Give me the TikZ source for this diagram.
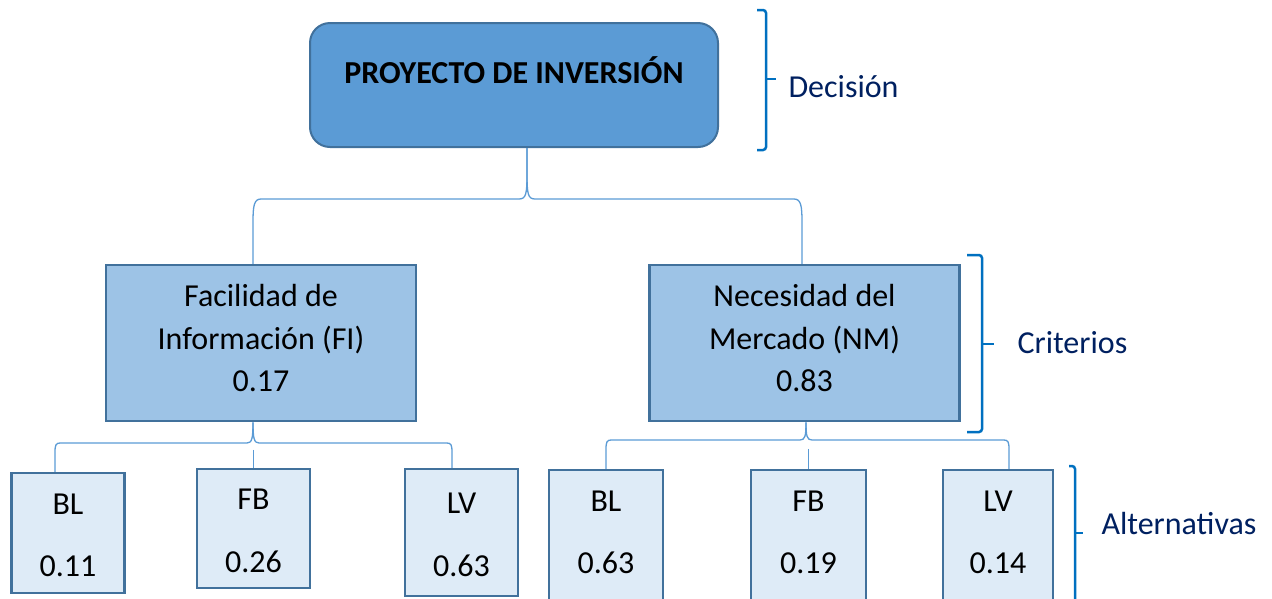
\documentclass[tikz,border=0pt]{standalone}
\usepackage{fontspec}
\setmainfont{Carlito}

\definecolor{topfill}{HTML}{5B9BD5}
\definecolor{midfill}{HTML}{9DC3E6}
\definecolor{altfill}{HTML}{DEEBF7}
\definecolor{boxline}{HTML}{41719C}
\definecolor{linkblue}{HTML}{5B9BD5}
\definecolor{bracketblue}{HTML}{0070C0}
\definecolor{navy}{HTML}{002060}

\begin{document}
\begin{tikzpicture}[x=1pt,y=-1pt,
    topbox/.style={draw=boxline,line width=2pt,fill=topfill,rounded corners=20pt,
      minimum width=408pt,minimum height=124pt,
      font=\fontsize{32}{38}\selectfont\bfseries,text height=21pt,text depth=25pt},
    critbox/.style={draw=boxline,line width=2.5pt,fill=midfill,
      minimum width=310pt,minimum height=156pt,align=center,
      font=\fontsize{32}{42.5}\selectfont,text depth=9.5pt},
    altbox/.style={draw=boxline,line width=2.5pt,fill=altfill,minimum width=113pt,
      align=center,font=\fontsize{32}{38.4}\selectfont,text height=88pt},
    link/.style={draw=linkblue,line width=1.3pt},
    bracket/.style={draw=bracketblue,line width=2.5pt,rounded corners=3pt},
    tag/.style={anchor=base west,text=navy,font=\fontsize{32}{38}\selectfont}]
    \useasboundingbox (0,0) rectangle (1272,598);
    \clip (0,0) rectangle (1272,598);

    % decision
    \node[topbox] (proyecto) at (514,85) {PROYECTO DE INVERSIÓN};

    % criteria
    \node[critbox] (facilidad) at (261,343) {Facilidad de\\Información (FI)\\0.17};
    \node[critbox] (necesidad) at (804.5,343) {Necesidad del\\Mercado (NM)\\0.83};

    % alternatives
    \node[altbox,minimum height=120pt] (bl1) at (68,533) {BL\\[24pt]0.11};
    \node[altbox,minimum height=119pt] (fb1) at (253.5,528.5) {FB\\[24pt]0.26};
    \node[altbox,minimum height=127pt] (lv1) at (461.5,532.5) {LV\\[24pt]0.63};
    \node[altbox,minimum width=114pt,minimum height=160pt,text depth=41pt] (bl2) at (606,550) {BL\\[24pt]0.63};
    \node[altbox,minimum width=115pt,minimum height=160pt,text depth=41pt] (fb2) at (808.5,550) {FB\\[24pt]0.19};
    \node[altbox,minimum width=110pt,minimum height=160pt,text depth=41pt] (lv2) at (998,550) {LV\\[24pt]0.14};

    % links
    \draw[link] ([xshift=13pt]proyecto.south) -- ++(0,26) .. controls +(0,20) and +(7,0) .. (519,199)
        -- (261,199) .. controls +(-7,0) and +(0,-16) .. (253,222) -- ([xshift=-8pt]facilidad.north);
    \draw[link] ([xshift=13pt]proyecto.south) -- ++(0,26) .. controls +(0,20) and +(-7,0) .. (535,199)
        -- (794,199) .. controls +(7,0) and +(0,-16) .. (802,222) -- ([xshift=-2.5pt]necesidad.north);

    \draw[link] ([xshift=-8pt]facilidad.south) .. controls +(0,16) and +(5,0) .. (247,443)
        -- (60,443) .. controls +(-4,0) and +(0,-7) .. (55,452) -- ([xshift=-13pt]bl1.north);
    \draw[link] ([xshift=-8pt]facilidad.south) .. controls +(0,16) and +(-5,0) .. (259,443)
        -- (447,443) .. controls +(4,0) and +(0,-7) .. (452,452) -- ([xshift=-9.5pt]lv1.north);
    \draw[link] ([yshift=18pt]fb1.north) -- (fb1.north);

    \draw[link] ([xshift=1.5pt]necesidad.south) .. controls +(0,14) and +(5,0) .. (800,440)
        -- (611,440) .. controls +(-4,0) and +(0,-7) .. (606,449) -- (bl2.north);
    \draw[link] ([xshift=1.5pt]necesidad.south) .. controls +(0,14) and +(-5,0) .. (812,440)
        -- (1004,440) .. controls +(4,0) and +(0,-7) .. (1009,449) -- ([xshift=11pt]lv2.north);
    \draw[link] ([yshift=20pt]fb2.north) -- (fb2.north);

    % levels
    \draw[bracket] (757,10) -- (766,10) -- (766,150) -- (757,150);
    \draw[bracket] (766,79) -- (776,79);
    \node[tag] (decision) at (785,97) {Decisión};

    \draw[bracket] (967,255) -- (982,255) -- (982,432) -- (967,432);
    \draw[bracket] (982,344) -- (994,344);
    \node[tag] (criterios) at (1014,353) {Criterios};

    \draw[bracket] (1069,466) -- (1075,466) -- (1075,620);
    \draw[bracket] (1075,533) -- (1083,533);
    \node[tag] (alternativas) at (1098,534) {Alternativas};
\end{tikzpicture}
\end{document}
